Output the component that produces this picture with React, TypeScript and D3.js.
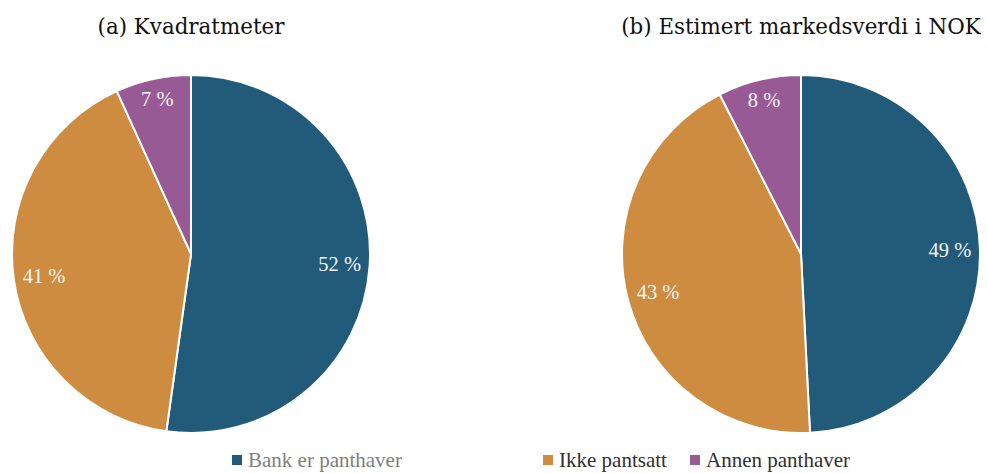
import React, { useRef, useEffect } from 'react';
import * as d3 from 'd3';

// Shares (per cent), clockwise from 12 o'clock
const categories = ['Bank er panthaver', 'Ikke pantsatt', 'Annen panthaver'];
const areaShares = [52.2, 41.0, 6.8];
const valueShares = [49.2, 43.3, 7.5];
const areaLabels = ['52 %', '41 %', '7 %'];
const valueLabels = ['49 %', '43 %', '8 %'];
const titles = ['(a) Kvadratmeter', '(b) Estimert markedsverdi i NOK'];
const colors = ['#225b79', '#cd8c40', '#975a94'];
const legendTextColors = ['#808080', '#303030', '#303030'];

const WIDTH = 987;
const HEIGHT = 473;

const App: React.FC = () => {
  const svgRef = useRef<SVGSVGElement>(null);

  useEffect(() => {
    const svg = d3.select(svgRef.current);
    svg.selectAll('*').remove();

    const radius = 179;
    const centers = [
      { x: 191, y: 254 },
      { x: 801, y: 254 }
    ];
    const panels = [
      { values: areaShares, labels: areaLabels, title: titles[0] },
      { values: valueShares, labels: valueLabels, title: titles[1] }
    ];

    const pie = d3.pie<number>().sort(null).value(d => d);
    const arc = d3.arc<d3.PieArcDatum<number>>().innerRadius(0).outerRadius(radius);

    panels.forEach((panel, p) => {
      const c = centers[p];
      const g = svg.append('g').attr('transform', `translate(${c.x},${c.y})`);
      const arcs = pie(panel.values);

      g.selectAll('path')
        .data(arcs)
        .enter()
        .append('path')
        .attr('d', arc)
        .attr('fill', (d, i) => colors[i])
        .attr('stroke', '#ffffff')
        .attr('stroke-width', 2)
        .attr('stroke-linejoin', 'round');

      // labels: pushed out along the bisector until the text box hits the rim
      arcs.forEach((d, i) => {
        const text = g.append('text')
          .attr('text-anchor', 'middle')
          .attr('dy', '0.35em')
          .style('font-family', '"Liberation Serif", serif')
          .style('font-size', '20.5px')
          .style('fill', '#f4f4f4')
          .text(panel.labels[i]);
        const w = (text.node() as SVGTextElement).getComputedTextLength();
        const hw = w / 2;
        const hh = 8;
        const mid = (d.startAngle + d.endAngle) / 2;
        const ux = Math.sin(mid);
        const uy = -Math.cos(mid);
        const limit = radius - 8;
        let dist = limit;
        for (; dist > 0; dist -= 0.5) {
          const cx = dist * ux;
          const cy = dist * uy;
          const far = Math.max(
            Math.hypot(cx + hw, cy + hh),
            Math.hypot(cx - hw, cy + hh),
            Math.hypot(cx + hw, cy - hh),
            Math.hypot(cx - hw, cy - hh)
          );
          if (far <= limit) break;
        }
        text.attr('x', dist * ux).attr('y', dist * uy);
      });

      svg.append('text')
        .attr('x', c.x)
        .attr('y', 34)
        .attr('text-anchor', 'middle')
        .style('font-family', '"DejaVu Serif", serif')
        .style('font-size', '21.4px')
        .style('fill', '#111')
        .text(panel.title);
    });

    // legend
    const legendX = [232, 543, 690];
    const legendY = 460;
    categories.forEach((name, i) => {
      const lg = svg.append('g').attr('transform', `translate(${legendX[i]},${legendY})`);
      lg.append('rect')
        .attr('x', 0)
        .attr('y', -5)
        .attr('width', 10)
        .attr('height', 10)
        .attr('fill', colors[i]);
      lg.append('text')
        .attr('x', 16)
        .attr('y', 0)
        .attr('dy', '0.35em')
        .style('font-family', '"Liberation Serif", serif')
        .style('font-size', '21px')
        .style('fill', legendTextColors[i])
        .text(name);
    });
  }, []);

  return (
    <svg
      ref={svgRef}
      width={WIDTH}
      height={HEIGHT}
      style={{ position: 'absolute', left: 0, top: 0, background: '#fff' }}
    />
  );
};

export default App;
